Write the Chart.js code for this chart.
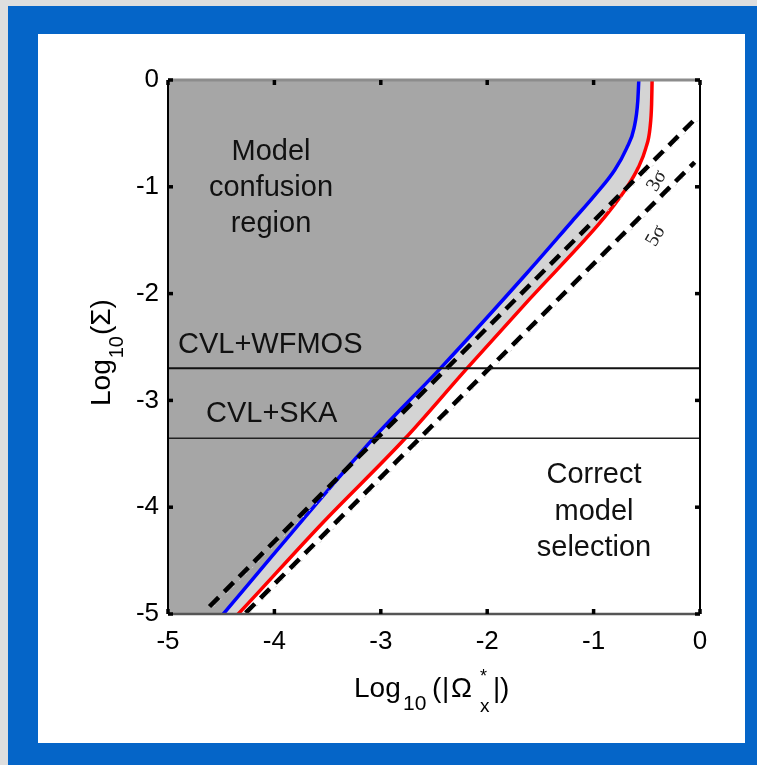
<!DOCTYPE html>
<html>
<head>
<meta charset="utf-8">
<script src="https://cdn.jsdelivr.net/npm/chart.js@4.4.0/dist/chart.umd.min.js"></script>
<style>
  html, body { margin: 0; padding: 0; background: #dedede; }
  canvas { display: block; }
</style>
</head>
<body>
<canvas id="confusionChart" width="757" height="765" style="width:757px;height:765px"></canvas>
<script>
// axis ticks
const xTicks = [-5, -4, -3, -2, -1, 0];
const yTicks = [0, -1, -2, -3, -4, -5];

// blue contour (first point lies below the axis, clipped)
const blueX = [-5.06, -4.48, -3.07, -2.44, -1.62, -1.2, -0.99, -0.80, -0.69, -0.62, -0.585, -0.575];
const blueY = [-5.68, -5, -3.355, -2.70, -1.80, -1.32, -1.08, -0.84, -0.64, -0.45, -0.2, 0];

// red contour
const redX = [-4.92, -4.34, -3.55, -2.77, -2.19, -1.6, -0.956, -0.83, -0.69, -0.58, -0.51, -0.47, -0.455, -0.45];
const redY = [-5.6, -5, -4.15, -3.355, -2.70, -2.05, -1.355, -1.2, -1.01, -0.82, -0.64, -0.45, -0.23, 0];

// 3 sigma and 5 sigma dashed lines
const sigma3X = [-4.61, -0.05];
const sigma3Y = [-4.93, -0.37];
const sigma5X = [-4.27, -0.05];
const sigma5Y = [-4.99, -0.77];

// survey sensitivity levels
const surveyNames = ["CVL+WFMOS", "CVL+SKA"];
const surveyLevels = [-2.70, -3.355];

const pts = (xs, ys) => xs.map((x, i) => ({ x: x, y: ys[i] }));
const FONT = "'Liberation Sans', Arial, Helvetica, sans-serif";

// frame, box, ticks and texts
const decorations = {
    id: "decorations",
    beforeDraw(chart) {
        const c = chart.ctx;
        c.save();
        c.fillStyle = "#dedede";
        c.fillRect(0, 0, 757, 765);
        c.fillStyle = "#0565c8";
        c.fillRect(8, 6, 749, 759);
        c.fillStyle = "#ffffff";
        c.fillRect(38, 34, 707, 709);
        c.restore();
    },
    afterDatasetsDraw(chart) {
        const c = chart.ctx;
        const a = chart.chartArea;
        const xs = chart.scales.x, ys = chart.scales.y;
        c.save();

        // 3 sigma / 5 sigma labels
        c.fillStyle = "#222";
        c.font = "20px 'Liberation Serif', 'DejaVu Serif', serif";
        c.textAlign = "center";
        c.textBaseline = "middle";
        [["3\u03c3", 657, 181], ["5\u03c3", 656, 236]].forEach(([t, x, y]) => {
            c.save();
            c.translate(x, y);
            c.rotate(-60 * Math.PI / 180);
            c.fillText(t, 0, 0);
            c.restore();
        });

        // box
        c.lineCap = "butt";
        c.strokeStyle = "#8c8c8c";
        c.lineWidth = 3;
        c.beginPath(); c.moveTo(a.left, a.top); c.lineTo(a.right, a.top); c.stroke();
        c.strokeStyle = "#555";
        c.lineWidth = 2.5;
        c.beginPath(); c.moveTo(a.left, a.bottom); c.lineTo(a.right, a.bottom); c.stroke();
        c.strokeStyle = "#000";
        c.lineWidth = 2;
        c.beginPath(); c.moveTo(a.left, a.top); c.lineTo(a.left, a.bottom); c.stroke();
        c.beginPath(); c.moveTo(a.right, a.top); c.lineTo(a.right, a.bottom); c.stroke();

        // inward tick marks
        c.lineWidth = 3.5;
        xTicks.forEach(v => {
            const px = xs.getPixelForValue(v);
            c.beginPath(); c.moveTo(px, a.bottom); c.lineTo(px, a.bottom - 5); c.stroke();
            c.beginPath(); c.moveTo(px, a.top); c.lineTo(px, a.top + 5); c.stroke();
        });
        yTicks.forEach(v => {
            const py = ys.getPixelForValue(v);
            c.beginPath(); c.moveTo(a.left, py); c.lineTo(a.left + 5, py); c.stroke();
            c.beginPath(); c.moveTo(a.right, py); c.lineTo(a.right - 5, py); c.stroke();
        });

        // region labels
        c.fillStyle = "#111";
        c.font = "29px " + FONT;
        c.textBaseline = "alphabetic";
        c.textAlign = "center";
        ["Model", "confusion", "region"].forEach((t, i) => c.fillText(t, 271, 160 + i * 36));
        ["Correct", "model", "selection"].forEach((t, i) => c.fillText(t, 594, 483 + i * 36.5));
        c.textAlign = "left";
        c.fillText(surveyNames[0], 178, ys.getPixelForValue(surveyLevels[0]) - 15);
        c.fillText(surveyNames[1], 206, ys.getPixelForValue(surveyLevels[1]) - 16);

        // x axis title: Log10(|Ω*x|)
        c.fillStyle = "#000";
        const big = "28px " + FONT;
        const put = (t, x, y, f) => { c.font = f; c.fillText(t, x, y); };
        put("Log", 354, 697, big);
        put("10", 403, 710, "21px " + FONT);
        put("(", 432, 697, big);
        put("|", 442, 697, big);
        put("\u03a9", 451, 697, big);
        put("*", 480, 682, "18px " + FONT);
        put("x", 480, 712, "19px " + FONT);
        put("|", 493, 697, big);
        put(")", 500, 697, big);

        // y axis title: Log10(Σ)
        c.save();
        c.translate(110, 406);
        c.rotate(-Math.PI / 2);
        c.font = big;
        c.fillText("Log", 0, 0);
        let w = c.measureText("Log").width + 1;
        c.font = "20px " + FONT;
        c.fillText("10", w, 13);
        w += c.measureText("10").width + 1;
        c.font = big;
        c.fillText("(\u03a3)", w, 0);
        c.restore();

        c.restore();
    }
};

const ctx = document.getElementById("confusionChart").getContext("2d");

const chart = new Chart(ctx, {
    type: "scatter",
    data: {
        datasets: [
        {
            label: "red",
            data: pts(redX, redY),
            showLine: true,
            borderColor: "#ff0000",
            borderWidth: 3.5,
            backgroundColor: "#d4d4d4",
            fill: "end",
            pointRadius: 0,
            cubicInterpolationMode: "monotone",
            clip: 0,
            order: 9,
        },
        {
            label: "blue",
            data: pts(blueX, blueY),
            showLine: true,
            borderColor: "#0000ff",
            borderWidth: 3.5,
            backgroundColor: "#a6a6a6",
            fill: "end",
            pointRadius: 0,
            cubicInterpolationMode: "monotone",
            clip: 0,
            order: 8,
        },
        {
            label: "3 sigma trace",
            data: pts(sigma3X.map(v => v + 0.04), sigma3Y),
            showLine: true,
            borderColor: "#cfcfcf",
            borderWidth: 1,
            borderDash: [2, 7],
            pointRadius: 0,
            fill: false,
            order: 7,
        },
        {
            label: "5 sigma trace",
            data: pts(sigma5X.map(v => v + 0.04), sigma5Y),
            showLine: true,
            borderColor: "#cfcfcf",
            borderWidth: 1,
            borderDash: [2, 7],
            pointRadius: 0,
            fill: false,
            order: 6,
        },
        {
            label: "3 sigma",
            data: pts(sigma3X, sigma3Y),
            showLine: true,
            borderColor: "#000",
            borderWidth: 4.5,
            borderDash: [13, 8],
            pointRadius: 0,
            fill: false,
            order: 5,
        },
        {
            label: "5 sigma",
            data: pts(sigma5X, sigma5Y),
            showLine: true,
            borderColor: "#000",
            borderWidth: 4.5,
            borderDash: [13, 8],
            pointRadius: 0,
            fill: false,
            order: 4,
        },
        {
            label: surveyNames[0],
            data: pts([-5, 0], [surveyLevels[0], surveyLevels[0]]),
            showLine: true,
            borderColor: "#111",
            borderWidth: 2,
            pointRadius: 0,
            fill: false,
            clip: 0,
            order: 2,
        },
        {
            label: surveyNames[1],
            data: pts([-5, 0], [surveyLevels[1], surveyLevels[1]]),
            showLine: true,
            borderColor: "#222",
            borderWidth: 1.6,
            pointRadius: 0,
            fill: false,
            clip: 0,
            order: 1,
        }],
    },
    options: {
        responsive: false,
        animation: false,
        layout: { padding: { top: 80, right: 57, bottom: 81, left: 0 } },
        plugins: {
            legend: { display: false },
            tooltip: { enabled: false },
        },
        scales: {
            x: {
                type: "linear",
                min: -5,
                max: 0,
                afterFit: (s) => { s.height = 70; },
                afterBuildTicks: (s) => { s.ticks = xTicks.map(v => ({ value: v })); },
                grid: { display: false, drawTicks: false },
                border: { display: false },
                ticks: {
                    color: "#000",
                    padding: 12,
                    font: { size: 26, family: FONT },
                },
            },
            y: {
                type: "linear",
                min: -5,
                max: 0,
                afterFit: (s) => { s.width = 168; },
                afterBuildTicks: (s) => { s.ticks = yTicks.map(v => ({ value: v })); },
                grid: { display: false, drawTicks: false },
                border: { display: false },
                ticks: {
                    color: "#000",
                    padding: 9,
                    font: { size: 26, family: FONT },
                },
            },
        },
    },
    plugins: [decorations],
});
</script>
</body>
</html>
